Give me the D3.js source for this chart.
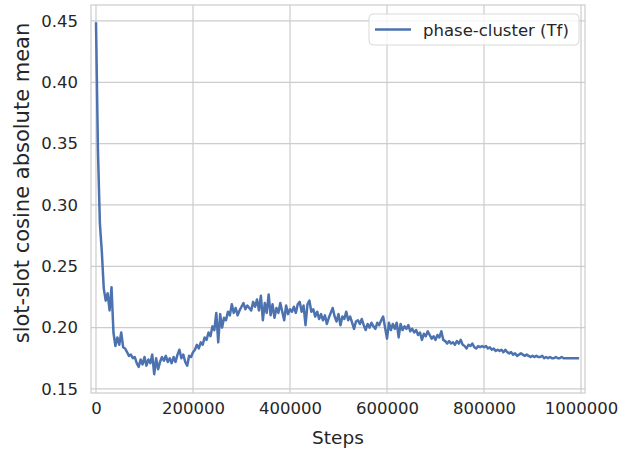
<!DOCTYPE html>
<html>
<head>
<meta charset="utf-8">
<script src="https://cdn.jsdelivr.net/npm/d3@7"></script>
<style>
  body { margin: 0; background: #fff; }
  text { font-family: 'DejaVu Sans', sans-serif; fill: #262626; }
</style>
</head>
<body>
<div id="chart"></div>
<script>
// logged every 4000 steps
const stepInterval = 4000;
const seriesName = 'phase-cluster (Tf)';
const xTicks = [0, 200000, 400000, 600000, 800000, 1000000];
const yTicks = [0.15, 0.20, 0.25, 0.30, 0.35, 0.40, 0.45];
const values = [
  0.449, 0.345, 0.285, 0.262, 0.232, 0.222, 0.228, 0.214, 0.233, 0.196,
  0.185, 0.192, 0.186, 0.196, 0.184, 0.183, 0.180, 0.177, 0.178, 0.175,
  0.176, 0.171, 0.168, 0.174, 0.170, 0.176, 0.169, 0.174, 0.171, 0.178,
  0.162, 0.175, 0.166, 0.172, 0.176, 0.173, 0.177, 0.172, 0.175, 0.171,
  0.176, 0.172, 0.178, 0.182, 0.175, 0.178, 0.172, 0.169, 0.177, 0.176,
  0.180, 0.182, 0.186, 0.183, 0.188, 0.186, 0.192, 0.190, 0.196, 0.193,
  0.201, 0.198, 0.212, 0.188, 0.211, 0.200, 0.208, 0.206, 0.213, 0.210,
  0.219, 0.212, 0.216, 0.210, 0.214, 0.217, 0.220, 0.215, 0.218, 0.216,
  0.214, 0.221, 0.217, 0.223, 0.214, 0.226, 0.206, 0.220, 0.212, 0.227,
  0.210, 0.219, 0.208, 0.216, 0.212, 0.220, 0.213, 0.206, 0.218, 0.211,
  0.215, 0.213, 0.217, 0.212, 0.219, 0.221, 0.213, 0.218, 0.202, 0.219,
  0.222, 0.213, 0.215, 0.209, 0.213, 0.207, 0.211, 0.206, 0.210, 0.203,
  0.208, 0.212, 0.216, 0.209, 0.205, 0.211, 0.202, 0.209, 0.207, 0.213,
  0.206, 0.209, 0.204, 0.199, 0.205, 0.206, 0.203, 0.207, 0.202, 0.198,
  0.203, 0.200, 0.204, 0.201, 0.199, 0.204, 0.202, 0.206, 0.209, 0.200,
  0.191, 0.204, 0.198, 0.203, 0.199, 0.204, 0.192, 0.203, 0.198, 0.201,
  0.199, 0.202, 0.197, 0.199, 0.196, 0.198, 0.194, 0.196, 0.190, 0.195,
  0.193, 0.197, 0.194, 0.191, 0.193, 0.190, 0.194, 0.192, 0.197, 0.190,
  0.189, 0.187, 0.189, 0.187, 0.188, 0.186, 0.189, 0.187, 0.190, 0.186,
  0.185, 0.183, 0.186, 0.185, 0.187, 0.184, 0.183, 0.185, 0.184, 0.185,
  0.184, 0.185, 0.183, 0.184, 0.182, 0.183, 0.181, 0.182, 0.181, 0.182,
  0.180, 0.182, 0.180, 0.179, 0.180, 0.178, 0.179, 0.177, 0.178, 0.179,
  0.178, 0.177, 0.178, 0.177, 0.176, 0.177, 0.176, 0.177, 0.176, 0.176,
  0.177, 0.175, 0.176, 0.175, 0.176, 0.175, 0.175, 0.176, 0.175, 0.175,
  0.176, 0.175, 0.175, 0.175, 0.175, 0.175, 0.175, 0.175, 0.175, 0.175,
];

const width = 632;
const height = 450;
const margin = { top: 5, right: 47, bottom: 57, left: 91 };
const lineColor = '#4c72b0';
const gridColor = '#cccccc';

const data = values.map((v, i) => ({ step: i * stepInterval, value: v }));

const svg = d3.select('#chart').append('svg')
  .attr('width', width)
  .attr('height', height);

const x = d3.scaleLinear()
  .domain([-10300, 1008200])
  .range([margin.left, width - margin.right]);
const y = d3.scaleLinear()
  .domain([0.1467, 0.463])
  .range([height - margin.bottom, margin.top]);

// grid (seaborn whitegrid look)
svg.append('g')
  .selectAll('line')
  .data(xTicks)
  .join('line')
  .attr('x1', d => x(d)).attr('x2', d => x(d))
  .attr('y1', margin.top).attr('y2', height - margin.bottom)
  .attr('stroke', gridColor).attr('stroke-width', 1.2);

svg.append('g')
  .selectAll('line')
  .data(yTicks)
  .join('line')
  .attr('x1', margin.left).attr('x2', width - margin.right)
  .attr('y1', d => y(d)).attr('y2', d => y(d))
  .attr('stroke', gridColor).attr('stroke-width', 1.2);

const xAxis = d3.axisBottom(x)
  .tickValues(xTicks)
  .tickFormat(d3.format('d'))
  .tickSize(0)
  .tickPadding(9);
const yAxis = d3.axisLeft(y)
  .tickValues(yTicks)
  .tickFormat(d3.format('.2f'))
  .tickSize(0)
  .tickPadding(13);

const xg = svg.append('g')
  .attr('transform', `translate(0,${height - margin.bottom})`)
  .call(xAxis);
const yg = svg.append('g')
  .attr('transform', `translate(${margin.left},0)`)
  .call(yAxis);

[xg, yg].forEach((g) => {
  g.select('.domain').remove();
  g.selectAll('text')
    .attr('font-family', 'DejaVu Sans, sans-serif')
    .attr('font-size', 16.5)
    .attr('fill', '#262626');
});

// frame
svg.append('rect')
  .attr('x', margin.left)
  .attr('y', margin.top)
  .attr('width', width - margin.left - margin.right)
  .attr('height', height - margin.top - margin.bottom)
  .attr('fill', 'none')
  .attr('stroke', gridColor)
  .attr('stroke-width', 1.2);

const line = d3.line()
  .x(d => x(d.step))
  .y(d => y(d.value));

svg.append('path')
  .datum(data)
  .attr('fill', 'none')
  .attr('stroke', lineColor)
  .attr('stroke-width', 2.5)
  .attr('stroke-linejoin', 'round')
  .attr('d', line);

// axis labels
svg.append('text')
  .attr('x', (margin.left + width - margin.right) / 2)
  .attr('y', 444)
  .attr('text-anchor', 'middle')
  .attr('font-size', 18.5)
  .text('Steps');

svg.append('text')
  .attr('transform', `translate(29,${(margin.top + height - margin.bottom) / 2 - 16}) rotate(-90)`)
  .attr('text-anchor', 'middle')
  .attr('font-size', 21)
  .text('slot-slot cosine absolute mean');

// legend
const legend = svg.append('g').attr('transform', 'translate(369,14)');
legend.append('rect')
  .attr('width', 210)
  .attr('height', 31)
  .attr('rx', 4)
  .attr('fill', 'rgba(255,255,255,0.8)')
  .attr('stroke', '#d9d9d9');
legend.append('line')
  .attr('x1', 6).attr('x2', 42)
  .attr('y1', 15.5).attr('y2', 15.5)
  .attr('stroke', lineColor)
  .attr('stroke-width', 2.5);
legend.append('text')
  .attr('x', 54)
  .attr('y', 21.5)
  .attr('font-size', 16.5)
  .text(seriesName);
</script>
</body>
</html>
